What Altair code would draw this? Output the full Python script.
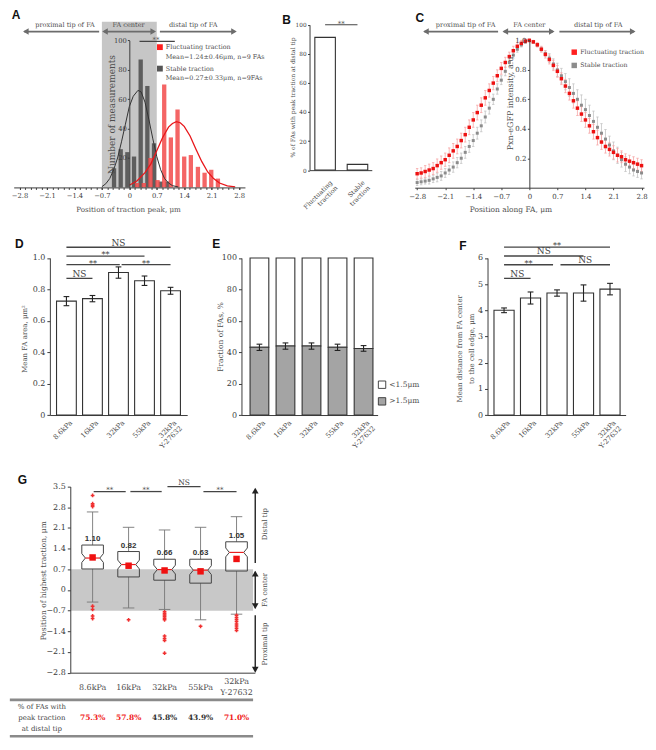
import altair as alt
import pandas as pd

W, H = 640, 734
SX, SY = W / 656.0, H / 750.0


def rx(a, b):
    return [a * SX, b * SX]


def ry(a, b):
    return [a * SY, b * SY]


def xoff(px):
    return -px * SX


def yoff(py):
    return py * SY - H


SERIF = "DejaVu Serif"
SANS = "Liberation Sans"
INK = "#3c3c3c"
TXT = "#4e4e4e"
RED = "#f01a1a"
ARROW = "#6c6c6c"

# ====================== DATA ======================
# --- Panel A: histogram of traction peak position ---
a_stable_pos = [-0.39, -0.22, -0.05, 0.12, 0.29, 0.46, 0.63, 0.80, 0.97]
a_stable_cnt = [13, 26, 24, 21, 87, 69, 30, 4, 4]
a_fluct_pos = [0.20, 0.37, 0.54, 0.72, 0.89, 1.06, 1.23, 1.40, 1.57, 1.75, 1.92, 2.09, 2.26]
a_fluct_cnt = [3, 3, 20, 5, 70, 34, 53, 21, 22, 14, 10, 12, 6]
a_stable_fit_x = [-0.70, -0.60, -0.50, -0.40, -0.30, -0.20, -0.10, 0.00, 0.10, 0.22,
                  0.30, 0.40, 0.50, 0.60, 0.70, 0.80, 0.90, 1.00, 1.10, 1.25]
a_stable_fit_y = [0.5, 2.5, 6, 12, 20, 31, 43, 55, 62, 66, 65, 58, 46, 33, 21, 12, 6, 3, 1.2, 0.3]
a_fluct_fit_x = [0.00, 0.20, 0.40, 0.55, 0.70, 0.85, 1.00, 1.10, 1.20, 1.30,
                 1.40, 1.55, 1.70, 1.85, 2.00, 2.15, 2.30, 2.50, 2.70]
a_fluct_fit_y = [1.5, 4.5, 10, 16, 25, 34, 41, 43.5, 44.7, 44, 41.5, 35, 26, 17.5, 10.5, 6, 3, 1, 0.3]

# --- Panel B ---
b_groups = ["Fluctuating\ntraction", "Stable\ntraction"]
b_pos = [0.25, 0.77]
b_vals = [91.3, 4.0]

# --- Panel C: Pxn-eGFP profiles ---
c_pos = [-2.8, -2.7, -2.6, -2.5, -2.4, -2.3, -2.2, -2.1, -2.0, -1.9,
         -1.8, -1.7, -1.6, -1.5, -1.4, -1.3, -1.2, -1.1, -1.0, -0.9,
         -0.8, -0.7, -0.6, -0.5, -0.4, -0.3, -0.2, -0.1, 0.0, 0.1,
         0.2, 0.3, 0.4, 0.5, 0.6, 0.7, 0.8, 0.9, 1.0, 1.1,
         1.2, 1.3, 1.4, 1.5, 1.6, 1.7, 1.8, 1.9, 2.0, 2.1,
         2.2, 2.3, 2.4, 2.5, 2.6, 2.7, 2.8]
c_fluct = [0.095, 0.10, 0.11, 0.12, 0.13, 0.15, 0.17, 0.19, 0.22, 0.25,
           0.28, 0.32, 0.36, 0.41, 0.46, 0.51, 0.56, 0.61, 0.66, 0.71,
           0.76, 0.81, 0.85, 0.89, 0.93, 0.96, 0.98, 0.995, 1.0, 0.99,
           0.97, 0.94, 0.905, 0.87, 0.83, 0.79, 0.74, 0.69, 0.64, 0.59,
           0.54, 0.50, 0.46, 0.42, 0.38, 0.34, 0.31, 0.28, 0.26, 0.24,
           0.22, 0.21, 0.19, 0.18, 0.17, 0.16, 0.15]
c_stable = [0.035, 0.04, 0.045, 0.05, 0.06, 0.07, 0.08, 0.10, 0.12, 0.14,
            0.17, 0.20, 0.24, 0.28, 0.32, 0.37, 0.42, 0.48, 0.54, 0.60,
            0.67, 0.73, 0.79, 0.85, 0.90, 0.94, 0.97, 0.99, 1.0, 0.99,
            0.97, 0.94, 0.91, 0.88, 0.84, 0.80, 0.76, 0.72, 0.68, 0.64,
            0.60, 0.56, 0.53, 0.49, 0.45, 0.41, 0.37, 0.33, 0.29, 0.25,
            0.22, 0.19, 0.16, 0.14, 0.12, 0.11, 0.10]
c_fluct_err = [0.035, 0.035, 0.04, 0.04, 0.04, 0.045, 0.045, 0.045, 0.05, 0.05,
               0.05, 0.05, 0.05, 0.05, 0.05, 0.05, 0.05, 0.05, 0.045, 0.045,
               0.04, 0.04, 0.035, 0.03, 0.03, 0.025, 0.02, 0.015, 0.01, 0.01,
               0.015, 0.02, 0.025, 0.03, 0.035, 0.04, 0.04, 0.045, 0.045, 0.05,
               0.05, 0.05, 0.05, 0.05, 0.05, 0.05, 0.05, 0.045, 0.045, 0.045,
               0.045, 0.04, 0.04, 0.04, 0.04, 0.04, 0.04]
c_stable_err = [0.02, 0.02, 0.02, 0.025, 0.025, 0.03, 0.03, 0.03, 0.03, 0.035,
                0.035, 0.035, 0.04, 0.04, 0.04, 0.04, 0.04, 0.04, 0.04, 0.035,
                0.035, 0.03, 0.03, 0.025, 0.02, 0.02, 0.015, 0.01, 0.005, 0.005,
                0.01, 0.015, 0.02, 0.03, 0.035, 0.045, 0.05, 0.055, 0.06, 0.065,
                0.065, 0.07, 0.07, 0.07, 0.07, 0.07, 0.065, 0.065, 0.06, 0.06,
                0.055, 0.05, 0.05, 0.045, 0.04, 0.04, 0.04]

# --- Panels D, E, F (substrate stiffness) ---
stiff_labels = ["8.6kPa", "16kPa", "32kPa", "55kPa", "32kPa\nY-27632"]
d_vals = [0.725, 0.741, 0.907, 0.855, 0.791]
d_err = [0.029, 0.020, 0.036, 0.030, 0.022]
e_vals = [43.1, 43.9, 43.9, 43.1, 42.4]
e_err = [2.0, 2.0, 2.0, 2.0, 1.8]
f_vals = [4.00, 4.47, 4.66, 4.66, 4.81]
f_err = [0.09, 0.23, 0.12, 0.31, 0.22]
d_sig = [(0, 4, 1.068, "NS"), (0, 3, 1.012, "**"), (0, 2.05, 0.957, "**"),
         (2.12, 4, 0.957, "**"), (0, 1, 0.870, "NS")]
f_sig = [(0, 4, 6.41, "**"), (0, 3, 6.075, "NS"), (0, 1.85, 5.74, "**"),
         (2.13, 4, 5.74, "NS"), (0, 1, 5.22, "NS")]

# --- Panel G (box plots) ---
g_labels = ["8.6kPa", "16kPa", "32kPa", "55kPa", "32kPa\nY-27632"]
g_q1 = [0.71, 0.44, 0.33, 0.23, 0.64]
g_med = [1.08, 0.86, 0.69, 0.67, 1.27]
g_q3 = [1.52, 1.30, 1.04, 1.04, 1.63]
g_wlo = [-0.41, -0.61, -0.66, -1.01, -0.82]
g_whi = [2.64, 2.12, 2.03, 2.12, 2.48]
g_mean = [1.10, 0.82, 0.66, 0.63, 1.05]
g_outliers = [
    [3.20, 2.92, 2.87, 2.82, -0.55, -0.66, -0.88, -0.97],
    [-1.01],
    [-0.74, -0.80, -0.85, -0.90, -0.96, -1.01, -1.56, -1.64, -1.71, -2.14],
    [-1.23],
    [-0.86, -0.93, -1.00, -1.07, -1.15, -1.22, -1.30, -1.37],
]
g_sig = [(0.03, 0.92, 3.33, "**"), (1.05, 1.92, 3.33, "**"),
         (2.08, 3.00, 3.50, "NS"), (3.08, 4.00, 3.33, "**")]
g_distal_pct = ["75.3%", "57.8%", "45.8%", "43.9%", "71.0%"]
g_pct_color = [RED, RED, "#333333", "#333333", RED]

# ====================== HELPERS ======================
layers = []


def sc(domain, rng):
    return alt.Scale(domain=domain, range=rng, nice=False, zero=False)


def X(f, s, axis=None):
    return alt.X(f + ":Q", scale=s, axis=axis)


def Y(f, s, axis=None):
    return alt.Y(f + ":Q", scale=s, axis=axis)


ZERO_FMT = "datum.value == 0 ? '0' : format(datum.value, '.1f')"


def ax(orient, offset, values=None, labels=True, size=7.0, tick=3, domain=True,
       expr=None, pad=2, z=0, ticks=True):
    kw = dict(orient=orient, offset=offset, grid=False, title=None, domain=domain,
              domainColor=INK, domainWidth=1, tickColor=INK, ticks=ticks, tickSize=tick,
              tickWidth=1, labels=labels, labelFont=SERIF, labelFontSize=size,
              labelColor=INK, labelPadding=pad, labelOverlap=False, labelFlush=False,
              zindex=z)
    if values is not None:
        kw["values"] = values
    if expr:
        kw["labelExpr"] = expr
    return alt.Axis(**kw)


def rects(df, xs, ys, xaxis=None, yaxis=None, **mk):
    return alt.Chart(df).mark_rect(**mk).encode(
        x=X("x1", xs, xaxis), x2=alt.X2("x2"), y=Y("y1", ys, yaxis), y2=alt.Y2("y2"))


def texts(rows, xs, ys, **mk):
    df = pd.DataFrame(rows, columns=["x", "y", "t"])
    base = dict(font=SERIF, color=TXT, fontSize=7)
    base.update(mk)
    return alt.Chart(df).mark_text(**base).encode(x=X("x", xs), y=Y("y", ys), text="t:N")


def segs(rows, xs, ys, xaxis=None, yaxis=None, **mk):
    df = pd.DataFrame(rows, columns=["x", "y", "x2", "y2"])
    base = dict(color=INK, strokeWidth=1)
    base.update(mk)
    return alt.Chart(df).mark_rule(**base).encode(
        x=X("x", xs, xaxis), y=Y("y", ys, yaxis), x2=alt.X2("x2"), y2=alt.Y2("y2"))


def heads(rows, xs, ys, color=ARROW, size=40):
    df = pd.DataFrame(rows, columns=["x", "y", "s"])
    return alt.Chart(df).mark_point(filled=True, opacity=1, color=color, size=size,
                                    strokeWidth=0).encode(
        x=X("x", xs), y=Y("y", ys), shape=alt.Shape("s:N", scale=None))


def squares(rows, xs, ys, size=30, **mk):
    df = pd.DataFrame(rows, columns=["x", "y", "c"])
    return alt.Chart(df).mark_square(size=size, opacity=1, **mk).encode(
        x=X("x", xs), y=Y("y", ys), fill=alt.Fill("c:N", scale=None))


def letter(xs, ys, x, y, t):
    return texts([(x, y, t)], xs, ys, font=SANS, fontWeight="bold", fontSize=12,
                 color="#111111", align="left")


def bar_panel(xs, ys, vals, errs, yaxis, fill="white"):
    n = len(vals)
    df = pd.DataFrame({"x1": [i - 0.38 for i in range(n)], "x2": [i + 0.38 for i in range(n)],
                       "y1": [0] * n, "y2": vals})
    return df


def errbars(xs, ys, vals, errs, cap=0.11, **mk):
    rows = []
    for i, (v, e) in enumerate(zip(vals, errs)):
        rows.append((i, v - e, i, v + e))
        rows.append((i - cap, v + e, i + cap, v + e))
        rows.append((i - cap, v - e, i + cap, v - e))
    return segs(rows, xs, ys, **mk)


def sig_layers(xs, ys, sig, label_dy_ns=-4.5, label_dy_star=-1.0, size_ns=9, size_star=8):
    out = [segs([(a, y, b, y) for a, b, y, _ in sig], xs, ys, color="#444444", strokeWidth=1.3)]
    ns = [((a + b) / 2, y, t) for a, b, y, t in sig if t == "NS"]
    st = [((a + b) / 2, y, t) for a, b, y, t in sig if t != "NS"]
    if ns:
        out.append(texts(ns, xs, ys, fontSize=size_ns, dy=label_dy_ns, color="#444444"))
    if st:
        out.append(texts(st, xs, ys, fontSize=size_star, dy=label_dy_star, color="#444444"))
    return out


def rot_labels(xs, ys, xoffs, y, fs=7):
    rows = [(i + xoffs, y, t) for i, t in enumerate(stiff_labels)]
    return texts(rows, xs, ys, angle=315, align="right", baseline="middle", fontSize=fs,
                 lineBreak="\n", lineHeight=8)


# ====================== PANEL A ======================
A_xs = sc([-2.95, 2.95], rx(122.7 - 2.95 * 40.3, 122.7 + 2.95 * 40.3))
A_ys = sc([0, 100], ry(181.7, 31.0))
A_major = [-2.8, -2.1, -1.4, -0.7, 0, 0.7, 1.4, 2.1, 2.8]
A_minor = [round(-2.8 + 0.14 * k, 2) for k in range(41)]
HW = 0.055

layers.append(rects(pd.DataFrame({"x1": [-0.7], "x2": [0.7], "y1": [0], "y2": [112.6]}),
                    A_xs, A_ys,
                    xaxis=ax("bottom", yoff(181.7), A_minor, labels=False, tick=2, domain=False),
                    color="#c6c6c6"))
layers.append(rects(pd.DataFrame({"x1": [p - HW for p in a_stable_pos],
                                  "x2": [p + HW for p in a_stable_pos],
                                  "y1": [0] * len(a_stable_pos), "y2": a_stable_cnt}),
                    A_xs, A_ys,
                    xaxis=ax("bottom", yoff(181.7), A_major, size=6.8, tick=2, pad=3,
                             expr=ZERO_FMT, z=1),
                    yaxis=ax("left", xoff(122.7), [20, 40, 60, 80, 100], size=6.8, tick=2,
                             pad=1, z=1),
                    color="#555555", opacity=0.92))
layers.append(rects(pd.DataFrame({"x1": [p - HW for p in a_fluct_pos],
                                  "x2": [p + HW for p in a_fluct_pos],
                                  "y1": [0] * len(a_fluct_pos), "y2": a_fluct_cnt}),
                    A_xs, A_ys, color="#f24a4a", opacity=0.85))
layers.append(alt.Chart(pd.DataFrame({"x": a_stable_fit_x, "y": a_stable_fit_y}))
              .mark_line(color="#333333", strokeWidth=1)
              .encode(x=X("x", A_xs), y=Y("y", A_ys)))
layers.append(alt.Chart(pd.DataFrame({"x": a_fluct_fit_x, "y": a_fluct_fit_y}))
              .mark_line(color="#e8161a", strokeWidth=1.3)
              .encode(x=X("x", A_xs), y=Y("y", A_ys)))
# arrows
layers.append(segs([(-2.68, 106, -0.77, 106), (-0.64, 106, 0.63, 106), (0.78, 106, 2.68, 106)],
                   A_xs, A_ys, color=ARROW, strokeWidth=1.8))
layers.append(heads([(-2.64, 106, "triangle-left"), (-0.62, 106, "triangle-left"),
                     (0.61, 106, "triangle-right"), (2.67, 106, "triangle-right")],
                    A_xs, A_ys, size=42))
layers.append(texts([(-1.64, 110.8, "proximal tip of FA"), (-0.02, 110.8, "FA center"),
                     (1.63, 110.8, "distal tip of FA")], A_xs, A_ys, fontSize=6.6))
# legend
layers.append(squares([(0.78, 95.4, "#ff2020"), (0.78, 80.8, "#555555")], A_xs, A_ys, size=34))
layers.append(texts([(0.93, 95.4, "Fluctuating traction"),
                     (0.93, 88.8, "Mean=1.24±0.46μm, n=9 FAs"),
                     (0.93, 80.8, "Stable traction"),
                     (0.93, 74.1, "Mean=0.27±0.33μm, n=9FAs")], A_xs, A_ys,
                    align="left", fontSize=6.4))
layers.append(segs([(0.26, 99.3, 1.16, 99.3)], A_xs, A_ys, color="#444444", strokeWidth=1.2))
layers.append(texts([(0.68, 99.3, "**")], A_xs, A_ys, fontSize=7, dy=-1))
layers.append(texts([(-0.43, 49.6, "Number of measurements")], A_xs, A_ys, angle=270,
                    fontSize=9))
layers.append(texts([(-0.02, -15.5, "Position of traction peak, μm")], A_xs, A_ys,
                    fontSize=7.2))
layers.append(letter(A_xs, A_ys, -3.0, 117, "A"))

# ====================== PANEL B ======================
B_xs = sc([0, 1], rx(308, 372))
B_ys = sc([0, 100], ry(164, 15))
layers.append(rects(pd.DataFrame({"x1": [p - 0.165 for p in b_pos],
                                  "x2": [p + 0.165 for p in b_pos],
                                  "y1": [0, 0], "y2": b_vals}),
                    B_xs, B_ys,
                    xaxis=ax("bottom", yoff(164), labels=False, ticks=False, tick=0),
                    yaxis=ax("left", xoff(308), [0, 20, 40, 60, 80, 100], size=5.8, tick=2,
                             pad=1.5),
                    fill="white", stroke="#333333", strokeWidth=1.1))
layers.append(segs([(0.25, 100, 0.77, 100)], B_xs, B_ys, color="#444444", strokeWidth=1.2))
layers.append(texts([(0.51, 100, "**")], B_xs, B_ys, fontSize=7, dy=-1))
layers.append(texts([(p + 0.1, -8, g) for p, g in zip(b_pos, b_groups)], B_xs, B_ys,
                    angle=315, align="right", baseline="middle", fontSize=6.4,
                    lineBreak="\n", lineHeight=7.5))
layers.append(texts([(-0.27, 50, "% of FAs with peak traction at distal tip")], B_xs, B_ys,
                    angle=270, fontSize=6))
layers.append(letter(B_xs, B_ys, -0.44, 103.4, "B"))

# ====================== PANEL C ======================
C_xs = sc([-2.86, 2.86], rx(534 - 2.86 * 41.2, 534 + 2.86 * 41.2))
C_ys = sc([0, 1], ry(182, 31))
c_df = pd.DataFrame({"x": c_pos, "f": c_fluct, "s": c_stable})
layers.append(segs([(x, v - e, x, v + e) for x, v, e in zip(c_pos, c_stable, c_stable_err)]
                   + [(x - 0.03, v + e, x + 0.03, v + e) for x, v, e in zip(c_pos, c_stable, c_stable_err)]
                   + [(x - 0.03, v - e, x + 0.03, v - e) for x, v, e in zip(c_pos, c_stable, c_stable_err)],
                   C_xs, C_ys,
                   xaxis=ax("bottom", yoff(182), A_major, size=7, tick=2, pad=3,
                            expr=ZERO_FMT, z=1),
                   yaxis=ax("left", xoff(534), [0.2, 0.4, 0.6, 0.8, 1.0], size=7, tick=2,
                            pad=1.5, expr="format(datum.value, '.1f')", z=1),
                   color="#c4c4c4", strokeWidth=0.8))
layers.append(segs([(x, v - e, x, v + e) for x, v, e in zip(c_pos, c_fluct, c_fluct_err)]
                   + [(x - 0.03, v + e, x + 0.03, v + e) for x, v, e in zip(c_pos, c_fluct, c_fluct_err)]
                   + [(x - 0.03, v - e, x + 0.03, v - e) for x, v, e in zip(c_pos, c_fluct, c_fluct_err)],
                   C_xs, C_ys, color="#f6a6a6", strokeWidth=0.8))
layers.append(alt.Chart(c_df).mark_square(size=9, color="#8c8c8c", opacity=1)
              .encode(x=X("x", C_xs), y=Y("s", C_ys)))
layers.append(alt.Chart(c_df).mark_square(size=12, color="#ee1111", opacity=1)
              .encode(x=X("x", C_xs), y=Y("f", C_ys)))
layers.append(segs([(-2.62, 1.06, -0.78, 1.06), (-0.64, 1.06, 0.59, 1.06), (0.75, 1.06, 2.61, 1.06)],
                   C_xs, C_ys, color=ARROW, strokeWidth=1.8))
layers.append(heads([(-2.58, 1.06, "triangle-left"), (-0.60, 1.06, "triangle-left"),
                     (0.56, 1.06, "triangle-right"), (2.58, 1.06, "triangle-right")],
                    C_xs, C_ys, size=42))
layers.append(texts([(-1.59, 1.106, "proximal tip of FA"), (0.0, 1.106, "FA center"),
                     (1.72, 1.106, "distal tip of FA")], C_xs, C_ys, fontSize=6.6))
layers.append(squares([(1.12, 0.92, "#ff2020"), (1.12, 0.83, "#8c8c8c")], C_xs, C_ys, size=30))
layers.append(texts([(1.27, 0.92, "Fluctuating traction"), (1.27, 0.83, "Stable traction")],
                    C_xs, C_ys, align="left", fontSize=6.3))
layers.append(texts([(-0.46, 0.58, "Pxn-eGFP intensity, a.u.")], C_xs, C_ys, angle=270,
                    fontSize=8))
layers.append(texts([(-0.46, -0.152, "Position along FA, μm")], C_xs, C_ys, fontSize=7.5))
layers.append(letter(C_xs, C_ys, -2.84, 1.152, "C"))

# ====================== PANEL D ======================
D_xs = sc([-0.636, 4.64], rx(41, 182.2))
D_ys = sc([0, 1], ry(415, 254))
layers.append(rects(bar_panel(D_xs, D_ys, d_vals, d_err, None), D_xs, D_ys,
                    xaxis=ax("bottom", yoff(415), labels=False, ticks=False, tick=0),
                    yaxis=ax("left", xoff(41), [0, 0.2, 0.4, 0.6, 0.8, 1.0], size=8, tick=3,
                             pad=2, expr=ZERO_FMT),
                    fill="white", stroke="#333333", strokeWidth=1.1))
layers.append(errbars(D_xs, D_ys, d_vals, d_err, color="#222222", strokeWidth=1.1))
layers.extend(sig_layers(D_xs, D_ys, d_sig))
layers.append(rot_labels(D_xs, D_ys, 0.19, -0.043))
layers.append(texts([(-1.61, 0.484, "Mean FA area, μm²")], D_xs, D_ys, angle=270, fontSize=7))
layers.append(letter(D_xs, D_ys, -1.98, 1.087, "D"))

# ====================== PANEL E ======================
E_xs = sc([-0.69, 4.54], rx(238, 378))
E_ys = sc([0, 100], ry(415, 254))
n5 = len(e_vals)
layers.append(rects(pd.DataFrame({"x1": [i - 0.36 for i in range(n5)],
                                  "x2": [i + 0.36 for i in range(n5)],
                                  "y1": e_vals, "y2": [100] * n5}),
                    E_xs, E_ys,
                    xaxis=ax("bottom", yoff(415), labels=False, ticks=False, tick=0),
                    yaxis=ax("left", xoff(238), [0, 20, 40, 60, 80, 100], size=8, tick=3, pad=2),
                    fill="white", stroke="#333333", strokeWidth=1.1))
layers.append(rects(pd.DataFrame({"x1": [i - 0.36 for i in range(n5)],
                                  "x2": [i + 0.36 for i in range(n5)],
                                  "y1": [0] * n5, "y2": e_vals}),
                    E_xs, E_ys, fill="#a4a4a4", stroke="#333333", strokeWidth=1.1))
layers.append(errbars(E_xs, E_ys, e_vals, e_err, color="#222222", strokeWidth=1.1))
layers.append(squares([(4.71, 19.3, "white"), (4.71, 8.7, "#a4a4a4")], E_xs, E_ys, size=55,
                      stroke="#333333", strokeWidth=0.9))
layers.append(texts([(4.99, 19.3, "<1.5μm"), (4.99, 8.7, ">1.5μm")], E_xs, E_ys,
                    align="left", fontSize=7.5))
layers.append(rot_labels(E_xs, E_ys, 0.19, -4.35))
layers.append(texts([(-1.48, 49.7, "Fraction of FAs, %")], E_xs, E_ys, angle=270,
                    fontSize=7.5))
layers.append(letter(E_xs, E_ys, -1.81, 108.7, "E"))

# ====================== PANEL F ======================
F_xs = sc([-0.624, 4.59], rx(491, 633))
F_ys = sc([0, 6], ry(415, 254))
layers.append(rects(bar_panel(F_xs, F_ys, f_vals, f_err, None), F_xs, F_ys,
                    xaxis=ax("bottom", yoff(415), labels=False, ticks=False, tick=0),
                    yaxis=ax("left", xoff(491), [0, 1, 2, 3, 4, 5, 6], size=8, tick=3, pad=2),
                    fill="white", stroke="#333333", strokeWidth=1.1))
layers.append(errbars(F_xs, F_ys, f_vals, f_err, color="#222222", strokeWidth=1.1))
layers.extend(sig_layers(F_xs, F_ys, f_sig))
layers.append(rot_labels(F_xs, F_ys, 0.18, -0.26))
layers.append(texts([(-1.65, 2.53, "Mean distance from FA center\nto the cell edge, μm")],
                    F_xs, F_ys, angle=270, fontSize=7, lineBreak="\n", lineHeight=12))
layers.append(letter(F_xs, F_ys, -1.69, 6.45, "F"))

# ====================== PANEL G ======================
G_xs = sc([-0.62, 4.51], rx(62, 251.8))
G_ys = sc([-2.8, 3.5], ry(679.1, 488.3))
layers.append(rects(pd.DataFrame({"x1": [-0.62], "x2": [4.46], "y1": [-0.7], "y2": [0.7]}),
                    G_xs, G_ys,
                    xaxis=ax("bottom", yoff(679.1), labels=False, ticks=False, tick=0, z=1),
                    yaxis=ax("left", xoff(62), [-2.8, -2.1, -1.4, -0.7, 0, 0.7, 1.4, 2.1, 2.8, 3.5],
                             size=8, tick=3, pad=2, expr=ZERO_FMT, z=1),
                    color="#c8c8c8"))
# whiskers + caps
wrows = []
for i in range(5):
    wrows += [(i, g_q3[i], i, g_whi[i]), (i, g_q1[i], i, g_wlo[i]),
              (i - 0.16, g_whi[i], i + 0.16, g_whi[i]), (i - 0.16, g_wlo[i], i + 0.16, g_wlo[i])]
layers.append(segs(wrows, G_xs, G_ys, color="#777777", strokeWidth=0.9))
# notched boxes
BW, BWN, NH = 0.30, 0.20, 0.15
nb = []
for i in range(5):
    q1, m, q3 = g_q1[i], g_med[i], g_q3[i]
    pts = [(i - BW, q1), (i - BW, m - NH), (i - BWN, m), (i - BW, m + NH), (i - BW, q3),
           (i + BW, q3), (i + BW, m + NH), (i + BWN, m), (i + BW, m - NH), (i + BW, q1),
           (i - BW, q1)]
    for k, (x, y) in enumerate(pts):
        nb.append({"box": i, "k": k, "x": x, "y": y})
layers.append(alt.Chart(pd.DataFrame(nb)).mark_line(color="#444444", strokeWidth=1)
              .encode(x=X("x", G_xs), y=Y("y", G_ys), detail="box:N", order="k:Q"))
layers.append(segs([(i - BWN, m, i + BWN, m) for i, m in enumerate(g_med)], G_xs, G_ys,
                   color="#e82020", strokeWidth=1.2))
orow = []
for i, lst in enumerate(g_outliers):
    for v in lst:
        orow.append((i, v, "cross"))
layers.append(heads(orow, G_xs, G_ys, color="#f03030", size=14))
layers.append(alt.Chart(pd.DataFrame({"x": list(range(5)), "y": g_mean}))
              .mark_square(size=42, color="#f01010", opacity=1)
              .encode(x=X("x", G_xs), y=Y("y", G_ys)))
layers.append(texts([(i, q, f"{m:.2f}") for i, (q, m) in enumerate(zip(g_q3, g_mean))],
                    G_xs, G_ys, baseline="bottom", dy=-2, font=SANS, fontWeight="bold",
                    fontSize=8, color="#333333"))
layers.extend(sig_layers(G_xs, G_ys, [(a, b, y, t) for a, b, y, t in g_sig],
                         label_dy_ns=-4, label_dy_star=-1.5, size_ns=7.5, size_star=7))
# right-side arrows
layers.append(segs([(4.52, 0.91, 4.52, 3.38), (4.52, 0.62, 4.52, -0.62),
                    (4.52, -0.86, 4.52, -2.72)], G_xs, G_ys, color="#222222", strokeWidth=1.4))
layers.append(heads([(4.52, 3.36, "triangle-up"), (4.52, 0.55, "triangle-up"),
                     (4.52, -0.55, "triangle-down"), (4.52, -2.7, "triangle-down")],
                    G_xs, G_ys, color="#222222", size=45))
layers.append(texts([(4.8, 2.23, "Distal tip"), (4.8, 0.0, "FA center"),
                     (4.8, -1.83, "Proximal tip")], G_xs, G_ys, angle=270, fontSize=7))
layers.append(texts([(-1.35, 0.31, "Position of highest traction, μm")], G_xs, G_ys,
                    angle=270, fontSize=7.5))
layers.append(texts([(i, -3.12 if "\n" in t else -3.32, t) for i, t in enumerate(g_labels)],
                    G_xs, G_ys, fontSize=8, lineBreak="\n", lineHeight=11))
# table
layers.append(segs([(-2.3, -3.72, 4.46, -3.72), (-2.3, -4.95, 4.46, -4.95)], G_xs, G_ys,
                   color="#8a8a8a", strokeWidth=2.6))
layers.append(texts([(-1.41, -3.95, "% of FAs with\npeak traction\nat distal tip")], G_xs, G_ys,
                    fontSize=7, lineBreak="\n", lineHeight=11.4, color="#444444"))
tdf = pd.DataFrame({"x": list(range(5)), "y": [-4.34] * 5, "t": g_distal_pct, "c": g_pct_color})
layers.append(alt.Chart(tdf).mark_text(font=SERIF, fontWeight="bold", fontSize=7.5)
              .encode(x=X("x", G_xs), y=Y("y", G_ys), text="t:N",
                      color=alt.Color("c:N", scale=None)))
layers.append(letter(G_xs, G_ys, -2.08, 3.71, "G"))

# ====================== ASSEMBLE ======================
chart = (alt.layer(*layers)
         .resolve_scale(x="independent", y="independent")
         .resolve_axis(x="independent", y="independent")
         .properties(width=W, height=H, padding=0, background="white")
         .configure_view(stroke=None))

chart.save("out.html", embed_options={"renderer": "svg", "actions": False})
